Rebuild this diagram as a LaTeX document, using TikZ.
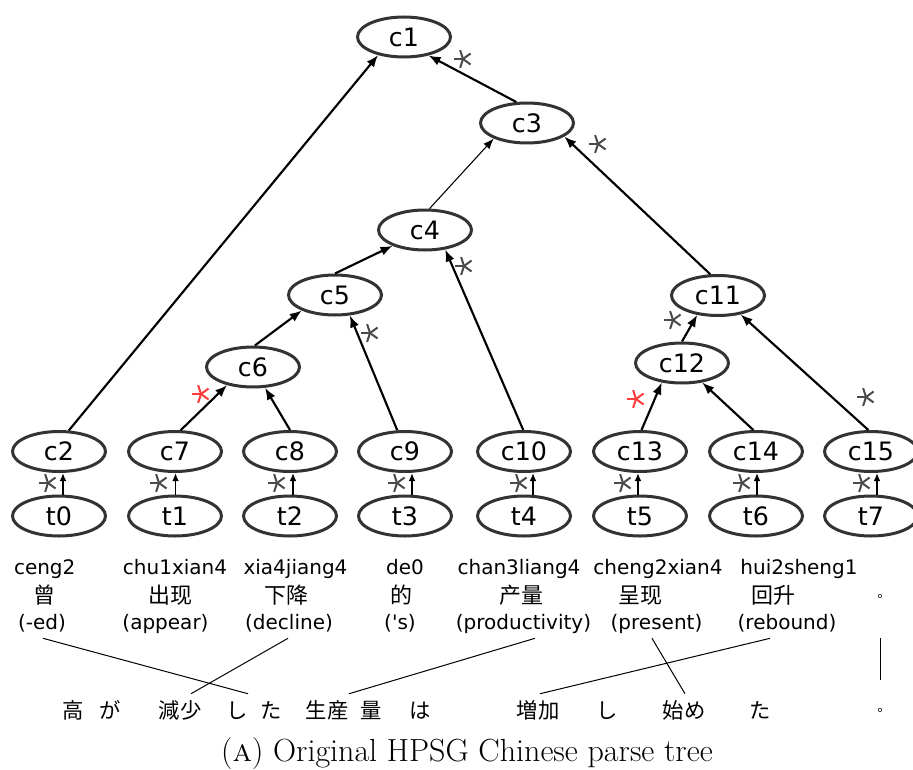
\documentclass[tikz,border=0pt]{standalone}
\usepackage{fontspec}
\newfontfamily\labelfont{DejaVu Sans}
\newfontfamily\hanzifont{Noto Sans CJK SC}
\newfontfamily\kanafont{Noto Sans CJK JP}
\newfontfamily\stopfont{Noto Sans CJK TC}
\usetikzlibrary{arrows.meta,shapes.geometric}
\definecolor{rim}{HTML}{333333}
\definecolor{markgray}{HTML}{4A4A4A}
\definecolor{markred}{HTML}{FF3B3B}

\tikzset{
  tnode/.style={ellipse, draw=rim, line width=2.25pt, minimum width=69.75pt,
    minimum height=30pt, inner sep=0pt, font=\labelfont\fontsize{19}{19}\selectfont},
  arc/.style={line width=1.6pt, -{Latex[length=9pt,width=7pt]}},
  thinarc/.style={line width=0.8pt, -{Latex[length=8pt,width=6pt]}},
  leafarc/.style={line width=1.3pt, -{Latex[length=6pt,width=5pt]}},
  % five-armed edge mark, one arm pointing left
  pics/asterisk/.style={code={
    \foreach \a in {180,108,36,-36,-108}
      \draw[line width=1.5pt] (0pt,0pt) -- (\a:7pt);
  }},
  starmark/.style={color=markgray},
  redmark/.style={color=markred},
  pinyin/.style={anchor=base, inner sep=0pt, font=\labelfont\fontsize{15}{15}\selectfont},
  hanzi/.style={anchor=base, inner sep=0pt, font=\hanzifont\fontsize{16.5}{16.5}\selectfont},
  gloss/.style={anchor=base, inner xsep=0pt, inner ysep=3.4pt, text height=11pt,
    text depth=3pt, font=\labelfont\fontsize{15}{15}\selectfont},
  kana/.style={anchor=base, inner xsep=0pt, inner ysep=4.5pt, text height=13.5pt,
    text depth=2pt, font=\kanafont\fontsize{16}{16}\selectfont},
  stopmark/.style={inner sep=0pt, font=\stopfont\fontsize{10}{10}\selectfont},
  align line/.style={line width=0.75pt},
}

\begin{document}
\begin{tikzpicture}[x=0.75pt, y=-0.75pt]
\useasboundingbox (0,0) rectangle (913,770);

% constituent nodes
\node[tnode] (c1)  at (404,37)    {c1};
\node[tnode] (c3)  at (527,123)   {c3};
\node[tnode] (c4)  at (425,230)   {c4};
\node[tnode] (c5)  at (335,295)   {c5};
\node[tnode] (c6)  at (253,367)   {c6};
\node[tnode] (c11) at (718,295.5) {c11};
\node[tnode] (c12) at (682,363)   {c12};
\node[tnode] (c2)  at (59,451.5)  {c2};
\node[tnode] (c7)  at (175,451.5) {c7};
\node[tnode] (c8)  at (290,451.5) {c8};
\node[tnode] (c9)  at (405,451.5) {c9};
\node[tnode] (c10) at (524,451.5) {c10};
\node[tnode] (c13) at (640,451.5) {c13};
\node[tnode] (c14) at (756,451.5) {c14};
\node[tnode] (c15) at (871,451.5) {c15};

% token nodes
\node[tnode] (t0) at (59,516)  {t0};
\node[tnode] (t1) at (175,516) {t1};
\node[tnode] (t2) at (290,516) {t2};
\node[tnode] (t3) at (405,516) {t3};
\node[tnode] (t4) at (524,516) {t4};
\node[tnode] (t5) at (640,516) {t5};
\node[tnode] (t6) at (756,516) {t6};
\node[tnode] (t7) at (871,516) {t7};

% tree edges
\draw[arc] (c2.65) -- (c1.215);
\draw[arc] (c3.117) -- (c1.323);
\draw[thinarc] (c4.78) -- (c3.205);
\draw[arc] (c11.110) -- (c3.340);
\draw[arc] (c5.90) -- (c4.206);
\draw[arc] (c10.92) -- (c4.316);
\draw[arc] (c6.85) -- (c5.205);
\draw[arc] (c9.110) -- (c5.306);
\draw[arc] (c7.75) -- (c6.215);
\draw[arc] (c8.90) -- (c6.300);
\draw[arc] (c12.90) -- (c11.223);
\draw[arc] (c15.97) -- (c11.320);
\draw[arc] (c13.86) -- (c12.224);
\draw[arc] (c14.97) -- (c12.316);

% token-to-constituent edges
\draw[leafarc] ([xshift=3pt]t0.north)    -- ([xshift=3pt]c2.south);
\draw[leafarc] ([xshift=0.4pt]t1.north)  -- ([xshift=0.4pt]c7.south);
\draw[leafarc] ([xshift=2.25pt]t2.north) -- ([xshift=2.25pt]c8.south);
\draw[leafarc] ([xshift=5.25pt]t3.north) -- ([xshift=5.25pt]c9.south);
\draw[leafarc] ([xshift=6.75pt]t4.north) -- ([xshift=6.75pt]c10.south);
\draw[leafarc] ([xshift=-1.5pt]t5.north) -- ([xshift=-1.5pt]c13.south);
\draw[leafarc] ([xshift=0.75pt]t6.north) -- ([xshift=0.75pt]c14.south);
\draw[leafarc] ([xshift=4.5pt]t7.north)  -- ([xshift=4.5pt]c15.south);

% edge marks
\pic[starmark] at (463,59)  {asterisk};
\pic[starmark] at (598,144) {asterisk};
\pic[starmark] at (464,266) {asterisk};
\pic[starmark] at (370,333) {asterisk};
\pic[redmark]  at (201,394) {asterisk};
\pic[starmark] at (673,320) {asterisk};
\pic[redmark]  at (636,399) {asterisk};
\pic[starmark] at (866,397) {asterisk};
\pic[starmark] at (48,483)  {asterisk};
\pic[starmark] at (159,483) {asterisk};
\pic[starmark] at (277,483) {asterisk};
\pic[starmark] at (397,483) {asterisk};
\pic[starmark] at (519,483) {asterisk};
\pic[starmark] at (623,483) {asterisk};
\pic[starmark] at (742,483) {asterisk};
\pic[starmark] at (862,483) {asterisk};

% pinyin row
\node[pinyin] (p0) at (44.7,574) {ceng2};
\node[pinyin] (p1) at (175,574)   {chu1xian4};
\node[pinyin] (p2) at (295.5,574) {xia4jiang4};
\node[pinyin] (p3) at (405,574)   {de0};
\node[pinyin] (p4) at (519,574)   {chan3liang4};
\node[pinyin] (p5) at (658,574)   {cheng2xian4};
\node[pinyin] (p6) at (799,574)   {hui2sheng1};

% Chinese words
\node[hanzi] (h0) at (44,603)    {曾};
\node[hanzi] (h1) at (170.5,603) {出现};
\node[hanzi] (h2) at (286.5,603) {下降};
\node[hanzi] (h3) at (401,603)   {的};
\node[hanzi] (h4) at (521.5,603) {产量};
\node[hanzi] (h5) at (640.5,603) {呈现};
\node[hanzi] (h6) at (773.5,603) {回升};
\node[stopmark] (h7) at (880,598) {。};

% English glosses
\node[gloss] (g0) at (42,629.5)    {(-ed)};
\node[gloss] (g1) at (165.5,629.5) {(appear)};
\node[gloss] (g2) at (289,629.5)   {(decline)};
\node[gloss] (g3) at (400,629.5)   {(\textquotesingle s)};
\node[gloss] (g4) at (523.5,629.5) {(productivity)};
\node[gloss] (g5) at (656.5,629.5) {(present)};
\node[gloss] (g6) at (787,629.5)   {(rebound)};

% Japanese sentence
\node[kana] (j1)  at (73,718)  {高};
\node[kana] (j2)  at (110,718) {が};
\node[kana] (j3)  at (180,718) {減少};
\node[kana] (j4)  at (237,718) {し};
\node[kana] (j5)  at (271,718) {た};
\node[kana] (j6)  at (327,718) {生産};
\node[kana] (j7)  at (371,718) {量};
\node[kana] (j8)  at (420,718) {は};
\node[kana] (j9)  at (538,718) {増加};
\node[kana] (j10) at (607,718) {し};
\node[kana] (j11) at (684,718) {始め};
\node[kana] (j12) at (760,718) {た};
\node[stopmark] (j13) at (880,712) {。};

% word alignments
\draw[align line] ([xshift=0.75pt]g0.south)   -- ([xshift=8.25pt]j4.north);
\draw[align line] ([xshift=-0.75pt]g2.south)  -- ([xshift=8.25pt]j3.north);
\draw[align line] ([xshift=8.6pt]g4.south)    -- ([xshift=16.5pt]j6.north);
\draw[align line] ([xshift=-3.4pt]g5.south)   -- ([xshift=0.75pt]j11.north);
\draw[align line] ([xshift=-12.75pt]g6.south) -- ([xshift=1.5pt]j9.north);
\coordinate (stopgl) at (880,638);
\coordinate (stopjp) at (880,680);
\draw[align line] (stopgl) -- (stopjp);

% caption
\node[anchor=base, inner sep=0pt, font=\fontsize{24}{28}\selectfont] (cap) at (467,761)
  {(\textsc{a}) Original HPSG Chinese parse tree};
\end{tikzpicture}
\end{document}
